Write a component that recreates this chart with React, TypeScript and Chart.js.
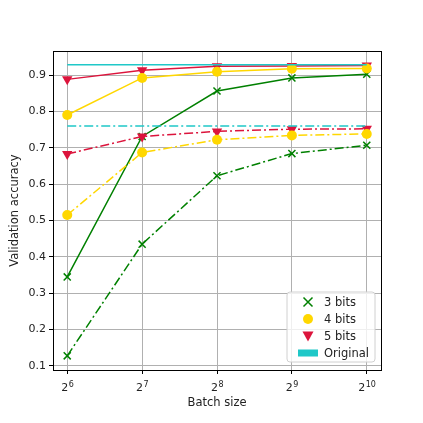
import React, { useEffect, useRef } from "react";
import { Chart, registerables } from "chart.js";
Chart.register(...registerables);

const batchExp = [6, 7, 8, 9, 10];
const xTickBase = "2";
const xTickExps = ["6", "7", "8", "9", "10"];
const yTicks = [0.1, 0.2, 0.3, 0.4, 0.5, 0.6, 0.7, 0.8, 0.9];

const bits3Solid = [0.345, 0.731, 0.856, 0.892, 0.902];
const bits3Dash = [0.128, 0.435, 0.623, 0.684, 0.707];
const bits4Solid = [0.79, 0.892, 0.909, 0.917, 0.918];
const bits4Dash = [0.515, 0.687, 0.722, 0.734, 0.738];
const bits5Solid = [0.888, 0.913, 0.924, 0.925, 0.926];
const bits5Dash = [0.683, 0.731, 0.745, 0.751, 0.752];
const originalSolid = [0.928, 0.928, 0.928, 0.928, 0.928];
const originalDash = [0.76, 0.76, 0.76, 0.76, 0.76];

const legendLabels = ["3 bits", "4 bits", "5 bits", "Original"];

const GREEN = "#008000";
const GOLD = "#ffd700";
const RED = "#dc143c";
const CYAN = "#1fc8c8";
const FONT = "'DejaVu Sans', sans-serif";
const DASHDOT = [9, 3, 2, 3];

const pts = (ys: number[]) => ys.map((y, i) => ({ x: batchExp[i], y }));

const powTickPlugin = {
  id: "powTicks",
  afterDraw(chart: any) {
    const { ctx } = chart;
    const xs = chart.scales.x;
    const baseY = xs.top + 21;
    ctx.save();
    ctx.fillStyle = "#222";
    ctx.textBaseline = "alphabetic";
    ctx.textAlign = "left";
    batchExp.forEach((v, i) => {
      const px = xs.getPixelForValue(v);
      ctx.font = `11px ${FONT}`;
      const wb = ctx.measureText(xTickBase).width;
      ctx.font = `8px ${FONT}`;
      const we = ctx.measureText(xTickExps[i]).width;
      const start = px - (wb + we) / 2;
      ctx.font = `11px ${FONT}`;
      ctx.fillText(xTickBase, start, baseY);
      ctx.font = `8px ${FONT}`;
      ctx.fillText(xTickExps[i], start + wb + 0.5, baseY - 4);
    });
    ctx.restore();
  },
};

const legendPlugin = {
  id: "boxLegend",
  afterDraw(chart: any) {
    const { ctx, chartArea } = chart;
    const w = 88, h = 70;
    const x0 = chartArea.right - 6 - w;
    const y0 = chartArea.bottom - 8 - h;
    ctx.save();
    ctx.fillStyle = "rgba(255,255,255,0.8)";
    ctx.strokeStyle = "#d0d0d0";
    ctx.lineWidth = 1;
    ctx.beginPath();
    const r = 3;
    ctx.moveTo(x0 + r, y0);
    ctx.arcTo(x0 + w, y0, x0 + w, y0 + h, r);
    ctx.arcTo(x0 + w, y0 + h, x0, y0 + h, r);
    ctx.arcTo(x0, y0 + h, x0, y0, r);
    ctx.arcTo(x0, y0, x0 + w, y0, r);
    ctx.closePath();
    ctx.fill();
    ctx.stroke();
    const mx = x0 + 21;
    const tx = x0 + 37;
    const rows = [y0 + 10, y0 + 27, y0 + 44, y0 + 61];
    ctx.strokeStyle = GREEN;
    ctx.lineWidth = 1.5;
    ctx.beginPath();
    ctx.moveTo(mx - 4.5, rows[0] - 4.5);
    ctx.lineTo(mx + 4.5, rows[0] + 4.5);
    ctx.moveTo(mx + 4.5, rows[0] - 4.5);
    ctx.lineTo(mx - 4.5, rows[0] + 4.5);
    ctx.stroke();
    ctx.fillStyle = GOLD;
    ctx.beginPath();
    ctx.arc(mx, rows[1], 5, 0, Math.PI * 2);
    ctx.fill();
    ctx.fillStyle = RED;
    ctx.beginPath();
    ctx.moveTo(mx - 5.5, rows[2] - 4.5);
    ctx.lineTo(mx + 5.5, rows[2] - 4.5);
    ctx.lineTo(mx, rows[2] + 5.5);
    ctx.closePath();
    ctx.fill();
    ctx.fillStyle = CYAN;
    ctx.fillRect(mx - 10, rows[3] - 3.5, 20, 7);
    ctx.fillStyle = "#222";
    ctx.font = `11.5px ${FONT}`;
    ctx.textBaseline = "middle";
    ctx.textAlign = "left";
    legendLabels.forEach((l, i) => ctx.fillText(l, tx, rows[i] + 1));
    ctx.restore();
  },
};

const framePlugin = {
  id: "frame",
  afterDatasetsDraw(chart: any) {
    const { ctx, chartArea } = chart;
    ctx.save();
    ctx.strokeStyle = "#000";
    ctx.lineWidth = 1;
    ctx.strokeRect(
      Math.round(chartArea.left) + 0.5,
      Math.round(chartArea.top) + 0.5,
      Math.round(chartArea.right - chartArea.left),
      Math.round(chartArea.bottom - chartArea.top)
    );
    ctx.restore();
  },
};

export default function App() {
  const ref = useRef<HTMLCanvasElement>(null);
  useEffect(() => {
    if (!ref.current) return;
    const line = (data: number[], color: string, dashed: boolean, style: any, radius: number, rot = 0) => ({
      data: pts(data),
      borderColor: color,
      backgroundColor: color,
      borderWidth: 1.5,
      borderDash: dashed ? DASHDOT : [],
      pointStyle: style,
      pointRadius: radius,
      pointRotation: rot,
      pointBorderWidth: style === "crossRot" ? 1.5 : 0,
      pointBackgroundColor: color,
      pointBorderColor: color,
      tension: 0,
      fill: false,
    });
    const chart = new Chart(ref.current, {
      type: "line",
      data: {
        datasets: [
          line(originalSolid, CYAN, false, false, 0),
          line(originalDash, CYAN, true, false, 0),
          line(bits4Dash, GOLD, true, "circle", 5),
          line(bits5Dash, RED, true, "triangle", 6, 180),
          line(bits3Dash, GREEN, true, "crossRot", 5),
          line(bits4Solid, GOLD, false, "circle", 5),
          line(bits5Solid, RED, false, "triangle", 6, 180),
          line(bits3Solid, GREEN, false, "crossRot", 5),
        ] as any,
      },
      options: {
        animation: false,
        responsive: false,
        layout: { padding: { top: 51, right: 42, left: 0, bottom: 0 } },
        plugins: { legend: { display: false }, tooltip: { enabled: false } },
        scales: {
          x: {
            type: "linear",
            min: 5.81,
            max: 10.19,
            afterBuildTicks: (s: any) => {
              s.ticks = batchExp.map((v) => ({ value: v }));
            },
            afterFit: (s: any) => {
              s.height = 53;
            },
            ticks: {
              callback: () => "",
              font: { family: FONT, size: 11 },
              padding: 2,
              maxRotation: 0,
            },
            grid: { color: "#b0b0b0", lineWidth: 1, tickColor: "#000", tickLength: 4 },
            border: { color: "#000", width: 1 },
            title: { display: true, text: "Batch size", font: { family: FONT, size: 11.5 }, color: "#222", padding: { top: 13, bottom: 13 } },
          },
          y: {
            type: "linear",
            min: 0.089,
            max: 0.966,
            afterBuildTicks: (s: any) => {
              s.ticks = yTicks.map((v) => ({ value: v }));
            },
            afterFit: (s: any) => {
              s.width = 53;
            },
            ticks: {
              callback: (v: any) => Number(v).toFixed(1),
              font: { family: FONT, size: 11 },
              color: "#222",
              padding: 3,
            },
            grid: { color: "#b0b0b0", lineWidth: 1, tickColor: "#000", tickLength: 4 },
            border: { color: "#000", width: 1 },
            title: { display: true, text: "Validation accuracy", font: { family: FONT, size: 11.5 }, color: "#222", padding: { top: 8, bottom: 8 } },
          },
        },
      } as any,
      plugins: [framePlugin, legendPlugin, powTickPlugin],
    });
    return () => chart.destroy();
  }, []);
  return (
    <div style={{ position: "absolute", left: 0, top: 0, width: 423, height: 423, background: "#fff" }}>
      <canvas ref={ref} width={423} height={423} style={{ width: 423, height: 423 }} />
    </div>
  );
}
